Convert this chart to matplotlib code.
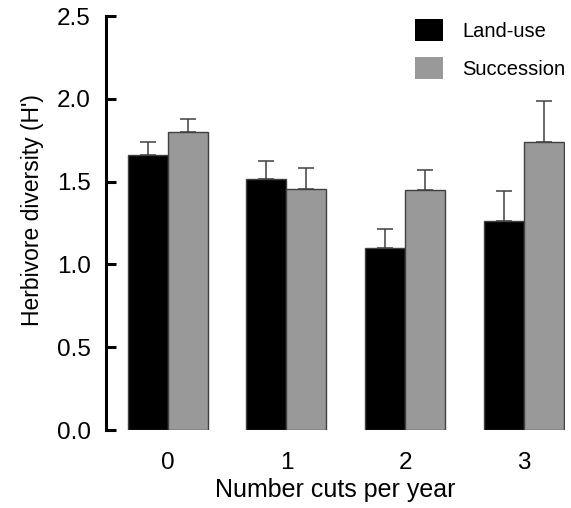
import matplotlib
matplotlib.use("Agg")
import matplotlib.pyplot as plt
import numpy as np

plt.rcParams['font.family'] = ['Liberation Sans', 'DejaVu Sans']

cuts = ['0', '1', '2', '3']
landUse = [1.66, 1.515, 1.10, 1.26]
landUseErr = [0.08, 0.11, 0.115, 0.185]
succession = [1.80, 1.455, 1.45, 1.74]
successionErr = [0.08, 0.13, 0.12, 0.245]

x = np.arange(len(cuts))
w = 0.3375

fig = plt.figure(figsize=(5.71, 5.08), dpi=100)
ax = fig.add_axes([0.1856, 0.1535, 0.8039, 0.815])

errStyle = dict(ecolor='#404040', elinewidth=1.1, capsize=6, capthick=1.1)
ax.bar(x - w/2, landUse, w, color='black', edgecolor='#404040', linewidth=1,
       yerr=[np.zeros(4), landUseErr], error_kw=errStyle, label='Land-use')
ax.bar(x + w/2, succession, w, color='#999999', edgecolor='#404040', linewidth=1,
       yerr=[np.zeros(4), successionErr], error_kw=errStyle, label='Succession')

ax.set_xlim(-0.523, 3.35)
ax.set_ylim(0, 2.5)
ax.set_xticks(x)
ax.set_xticklabels(cuts)
ax.set_yticks([0, 0.5, 1.0, 1.5, 2.0, 2.5])
ax.set_yticklabels(['0.0', '0.5', '1.0', '1.5', '2.0', '2.5'])

for s in ['top', 'right', 'bottom']:
    ax.spines[s].set_visible(False)
ax.spines['left'].set_linewidth(2.2)
ax.tick_params(axis='y', direction='in', length=7, width=2.2, labelsize=17.5, pad=11)
ax.tick_params(axis='x', length=0, labelsize=17.5, pad=16)

ax.set_xlabel('Number cuts per year', fontsize=18, labelpad=3)
ax.set_ylabel("Herbivore diversity (H')", fontsize=16.5)
ax.yaxis.set_label_coords(-0.135, 0.531)

leg = fig.legend(loc='upper left', bbox_to_anchor=(415/571, 1 - 19/508), frameon=False,
                 fontsize=14.5, borderpad=0, borderaxespad=0,
                 handlelength=1.4, handleheight=1.3, handletextpad=0.95, labelspacing=0.8)
for p in leg.get_patches():
    p.set_edgecolor('none')

plt.savefig('out.png')
